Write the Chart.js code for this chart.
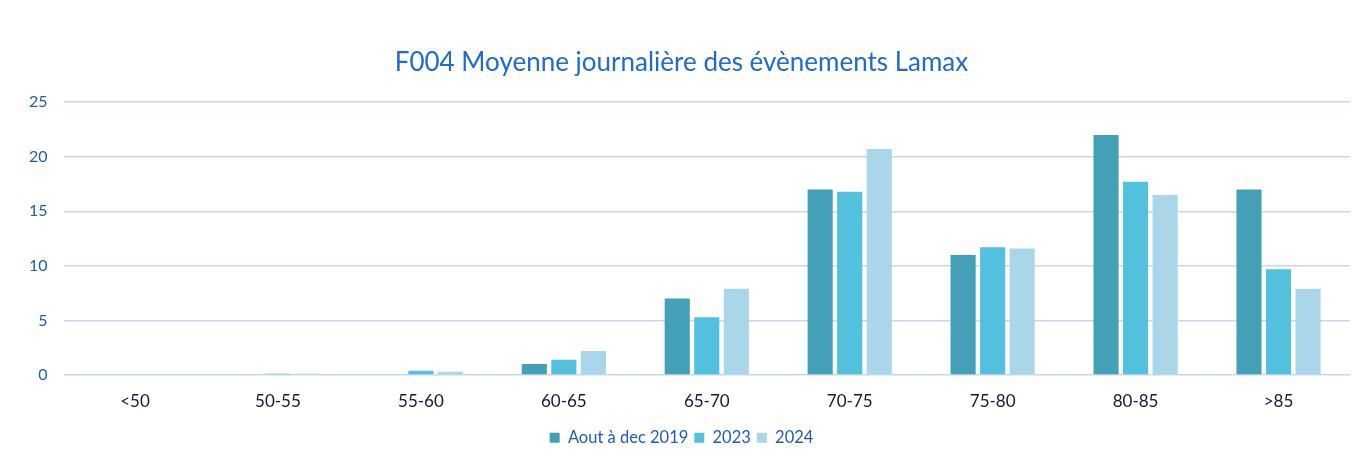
<!DOCTYPE html>
<html lang="fr">
<head>
  <meta charset="UTF-8">
  <title>F004 Moyenne journalière des évènements Lamax</title>
  <script src="https://cdn.jsdelivr.net/npm/chart.js"></script>
  <style>
    html, body { margin: 0; padding: 0; background: #fff; }
    #wrap { width: 1365px; height: 456px; }
  </style>
</head>
<body>
  <div id="wrap"><canvas id="lamaxChart"></canvas></div>
  <script>
    const categories = ['<50', '50-55', '55-60', '60-65', '65-70', '70-75', '75-80', '80-85', '>85'];
    const seriesNames = ['Aout à dec 2019', '2023', '2024'];
    const values2019 = [0, 0, 0, 1, 7, 17, 11, 22, 17];
    const values2023 = [0, 0.12, 0.4, 1.4, 5.3, 16.8, 11.7, 17.7, 9.7];
    const values2024 = [0, 0.12, 0.3, 2.2, 7.9, 20.7, 11.6, 16.5, 7.9];
    const yTicks = [0, 5, 10, 15, 20, 25];

    const colors = ['#44a0b7', '#53c0dd', '#a9d7e9'];
    const FONT = 'Lato, "Open Sans", sans-serif';

    const ctx = document.getElementById('lamaxChart').getContext('2d');
    new Chart(ctx, {
      type: 'bar',
      data: {
        labels: categories,
        datasets: [values2019, values2023, values2024].map((vals, i) => ({
          label: seriesNames[i],
          data: vals,
          backgroundColor: colors[i],
          borderWidth: 0,
          categoryPercentage: 0.62,
          barPercentage: 0.85
        }))
      },
      options: {
        responsive: true,
        maintainAspectRatio: false,
        animation: false,
        layout: { padding: { left: 13, right: 15, top: 47, bottom: 0 } },
        scales: {
          x: {
            grid: { display: false, drawTicks: false },
            border: { display: false },
            ticks: { color: '#141a33', font: { family: FONT, size: 17, lineHeight: 1 }, padding: 18 },
            // fixed height so the legend sits where it does in the original
            afterFit: scale => { scale.height = 48.5; }
          },
          y: {
            min: 0,
            max: 25,
            afterBuildTicks: axis => { axis.ticks = yTicks.map(v => ({ value: v })); },
            grid: { color: '#c6d7ee', lineWidth: 1.5, drawTicks: false },
            border: { display: false },
            ticks: { color: '#1f5bb8', font: { family: FONT, size: 16 }, padding: 16 }
          }
        },
        plugins: {
          title: {
            display: true,
            text: 'F004 Moyenne journalière des évènements Lamax',
            color: '#1f6cc9',
            font: { family: FONT, size: 26, weight: 'normal' },
            padding: { top: 0, bottom: 24 }
          },
          legend: {
            position: 'bottom',
            labels: {
              color: '#1f5bb8',
              font: { family: FONT, size: 16.5 },
              boxWidth: 10,
              boxHeight: 10,
              padding: 6
            }
          },
          tooltip: { enabled: false }
        }
      }
    });
  </script>
</body>
</html>
